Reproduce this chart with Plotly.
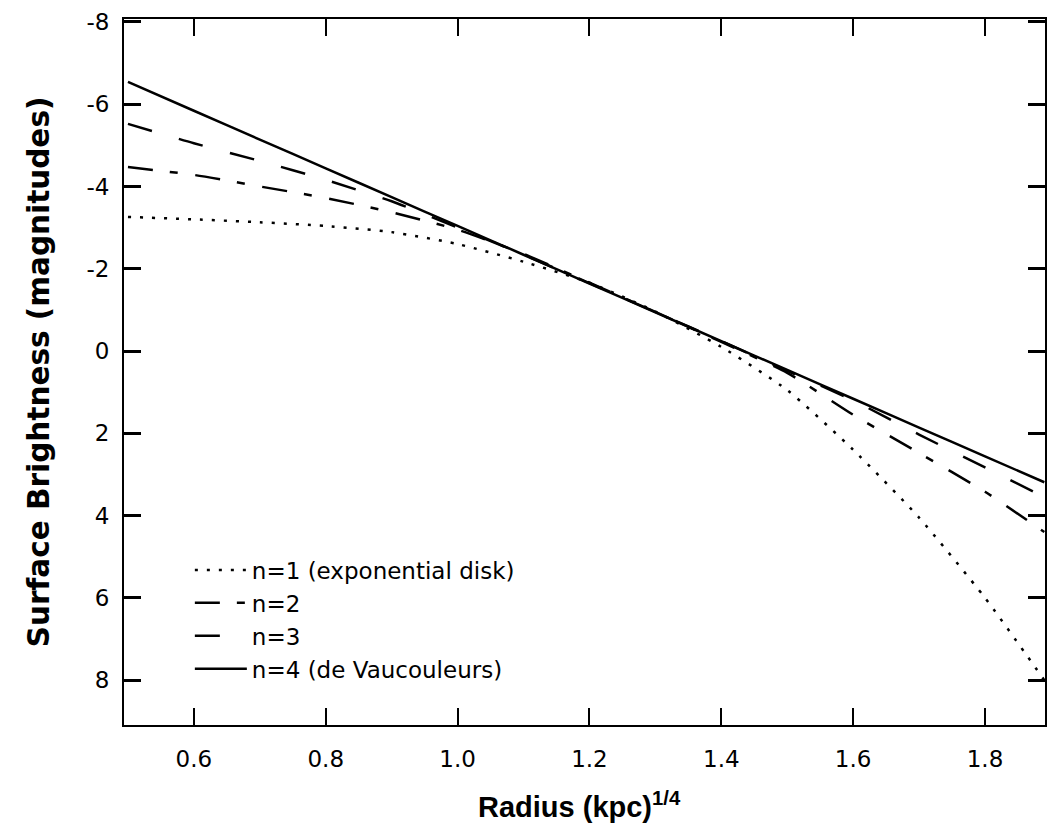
import plotly.graph_objects as go

radius = [0.50, 0.60, 0.70, 0.80, 0.90, 1.00, 1.10, 1.20, 1.30, 1.40, 1.50, 1.60, 1.70, 1.80, 1.89]
n1 = [-3.26, -3.20, -3.13, -3.04, -2.89, -2.60, -2.17, -1.66, -0.96, -0.10, 0.95, 2.40, 4.05, 6.00, 8.00]
n2 = [-4.47, -4.28, -4.00, -3.72, -3.37, -2.95, -2.36, -1.66, -0.95, -0.22, 0.53, 1.55, 2.48, 3.42, 4.40]
n3 = [-5.52, -5.05, -4.62, -4.16, -3.64, -3.00, -2.34, -1.65, -0.95, -0.24, 0.48, 1.20, 2.03, 2.83, 3.55]
n4 = [-6.54, -5.84, -5.14, -4.44, -3.74, -3.04, -2.34, -1.64, -0.94, -0.24, 0.46, 1.16, 1.86, 2.56, 3.19]

names = ["n=1 (exponential disk)", "n=2", "n=3", "n=4 (de Vaucouleurs)"]
series = [n1, n2, n3, n4]
dashes = ["3px,9px", "25px,17px,8px,18px", "25px,28px", "solid"]
widths = [2.5, 2.5, 2.5, 2.5]

y_ticks = [-8, -6, -4, -2, 0, 2, 4, 6, 8]
x_ticks = [0.6, 0.8, 1.0, 1.2, 1.4, 1.6, 1.8]

fig = go.Figure()
for name, ys, d, w in zip(names, series, dashes, widths):
    fig.add_trace(go.Scatter(x=radius, y=ys, mode="lines", name=name,
                             line=dict(color="black", width=w, dash=d, shape="spline", smoothing=0.6)))

tick_font = dict(family="DejaVu Sans", size=23, color="black")
fig.update_layout(
    width=1047, height=833,
    margin=dict(l=124, r=0, t=19, b=108),
    paper_bgcolor="white", plot_bgcolor="white",
    showlegend=True,
    legend=dict(x=0.0715, y=0.25, xanchor="left", yanchor="top", itemwidth=52,
                font=dict(family="DejaVu Sans", size=23, color="black"),
                bgcolor="rgba(0,0,0,0)", borderwidth=0, tracegroupgap=0),
    xaxis=dict(range=[0.494, 1.891], tickvals=x_ticks, ticktext=[f"{v:.1f}" for v in x_ticks],
               ticks="inside", ticklen=17, tickwidth=2, tickcolor="black",
               showline=True, linecolor="black", linewidth=2, mirror="allticks",
               showgrid=False, zeroline=False, tickfont=tick_font, ticklabelstandoff=12),
    yaxis=dict(range=[9.09, -8.07], tickvals=y_ticks, ticktext=[str(v) for v in y_ticks],
               ticks="inside", ticklen=17, tickwidth=3, tickcolor="black",
               showline=True, linecolor="black", linewidth=2, mirror="allticks",
               showgrid=False, zeroline=False, tickfont=tick_font, ticklabelstandoff=8),
    annotations=[
        dict(text="<b>Radius (kpc)<sup>1/4</sup></b>", x=0.495, y=-0.113, xref="paper", yref="paper",
             xanchor="center", yanchor="middle", showarrow=False,
             font=dict(family="Liberation Sans", size=29, color="black")),
        dict(text="<b>Surface Brightness (magnitudes)</b>", x=-0.092, y=0.5, xref="paper", yref="paper",
             xanchor="center", yanchor="middle", showarrow=False, textangle=-90,
             font=dict(family="DejaVu Sans", size=29.5, color="black")),
    ],
)

fig.write_html("out.html")
